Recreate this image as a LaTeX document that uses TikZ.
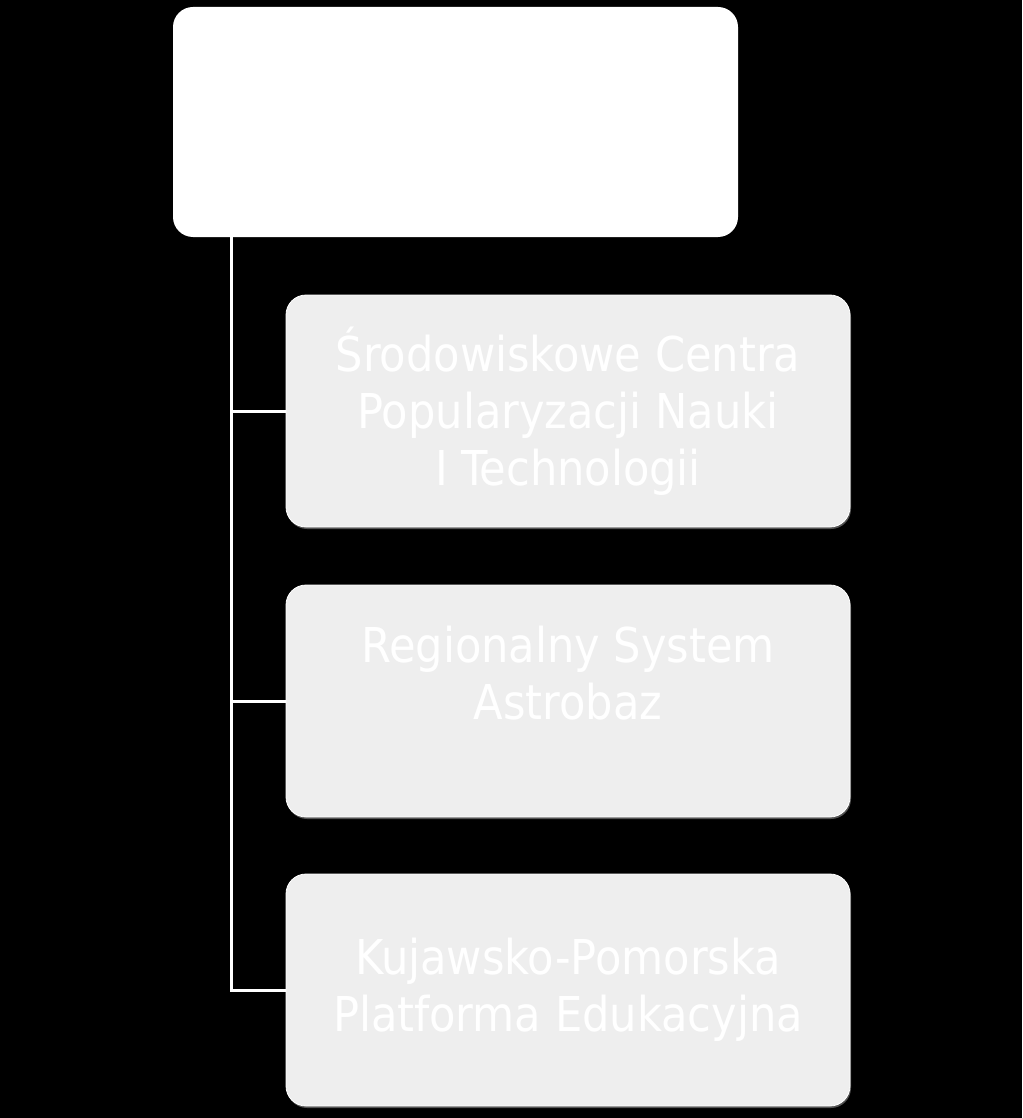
\documentclass[tikz,border=0pt]{standalone}
\usepackage{fontspec}
\setmainfont{DejaVu Sans Condensed}
\usetikzlibrary{shadows}
\definecolor{boxgray}{HTML}{EEEEEE}
\begin{document}
\begin{tikzpicture}[x=1pt,y=1pt,
		topbox/.style={fill=white,rounded corners=20pt,minimum width=565pt,minimum height=230pt,inner sep=0pt},
		itembox/.style={fill=boxgray,draw=white,line width=0.8pt,rounded corners=20pt,minimum width=564pt,minimum height=232pt,inner sep=0pt,
			text=white,align=center,font=\fontsize{48}{57}\selectfont,
			drop shadow={fill=gray!70,opacity=0.5,shadow xshift=1pt,shadow yshift=-2pt}},
		link/.style={draw=white,line width=3pt}]
			\fill[black] (0,0) rectangle (1022,-1118);
			\useasboundingbox (0,0) rectangle (1022,-1118);
			\node[topbox] (top) at (455.5,-122) {};
			\node[itembox] (a) at (568,-411) {Środowiskowe Centra\\Popularyzacji Nauki\\I Technologii};
			\node[itembox] (b) at (568,-701) {Regionalny System\\Astrobaz\\\mbox{}};
			\node[itembox] (c) at (568,-990) {Kujawsko-Pomorska\\Platforma Edukacyjna};
			\coordinate (r) at (231,-237);
			\draw[link] (r) |- (a.west);
			\draw[link] (r) |- (b.west);
			\draw[link] (r) |- (c.west);
		\end{tikzpicture}
\end{document}
